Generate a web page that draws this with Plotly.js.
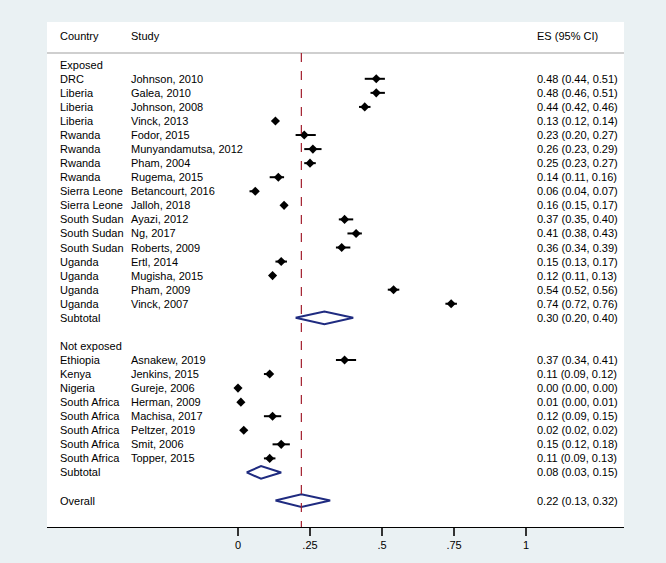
<!DOCTYPE html>
<html>
<head>
<meta charset="utf-8">
<script src="https://cdn.plot.ly/plotly-3.0.1.min.js"></script>
<style>html,body{margin:0;padding:0;background:#eaf1f3;}#chart{width:666px;height:563px;}</style>
</head>
<body>
<div id="chart"></div>
<script>
// ---- data ----
const exposedCountry = ["DRC","Liberia","Liberia","Liberia","Rwanda","Rwanda","Rwanda","Rwanda","Sierra Leone","Sierra Leone","South Sudan","South Sudan","South Sudan","Uganda","Uganda","Uganda","Uganda"];
const exposedStudy = ["Johnson, 2010","Galea, 2010","Johnson, 2008","Vinck, 2013","Fodor, 2015","Munyandamutsa, 2012","Pham, 2004","Rugema, 2015","Betancourt, 2016","Jalloh, 2018","Ayazi, 2012","Ng, 2017","Roberts, 2009","Ertl, 2014","Mugisha, 2015","Pham, 2009","Vinck, 2007"];
const exposedES = [0.48,0.48,0.44,0.13,0.23,0.26,0.25,0.14,0.06,0.16,0.37,0.41,0.36,0.15,0.12,0.54,0.74];
const exposedLo = [0.44,0.46,0.42,0.12,0.20,0.23,0.23,0.11,0.04,0.15,0.35,0.38,0.34,0.13,0.11,0.52,0.72];
const exposedHi = [0.51,0.51,0.46,0.14,0.27,0.29,0.27,0.16,0.07,0.17,0.40,0.43,0.39,0.17,0.13,0.56,0.76];

const notExpCountry = ["Ethiopia","Kenya","Nigeria","South Africa","South Africa","South Africa","South Africa","South Africa"];
const notExpStudy = ["Asnakew, 2019","Jenkins, 2015","Gureje, 2006","Herman, 2009","Machisa, 2017","Peltzer, 2019","Smit, 2006","Topper, 2015"];
const notExpES = [0.37,0.11,0.00,0.01,0.12,0.02,0.15,0.11];
const notExpLo = [0.34,0.09,0.00,0.00,0.09,0.02,0.12,0.09];
const notExpHi = [0.41,0.12,0.00,0.01,0.15,0.02,0.18,0.13];

const groupLabels = ["Exposed","Not exposed"];
const subtotalES = [0.30,0.08];
const subtotalLo = [0.20,0.03];
const subtotalHi = [0.40,0.15];
const overallES = 0.22, overallLo = 0.13, overallHi = 0.32;

const tickVals = [0,0.25,0.5,0.75,1];
const tickText = ["0",".25",".5",".75","1"];

// ---- build rows ----
const fmt = v => v.toFixed(2);
const ci = (e,l,h) => fmt(e)+" ("+fmt(l)+", "+fmt(h)+")";
const rows = []; // {country, study, es text, type, values}
function addGroup(label, countries, studies, es, lo, hi, sEs, sLo, sHi){
  rows.push({country:label, study:"", es:"", type:"header"});
  for(let k=0;k<countries.length;k++){
    rows.push({country:countries[k], study:studies[k], es:ci(es[k],lo[k],hi[k]), type:"study", v:[es[k],lo[k],hi[k]]});
  }
  rows.push({country:"Subtotal", study:"", es:ci(sEs,sLo,sHi), type:"diamond", v:[sEs,sLo,sHi]});
  rows.push({country:"", study:"", es:"", type:"blank"});
}
addGroup(groupLabels[0], exposedCountry, exposedStudy, exposedES, exposedLo, exposedHi, subtotalES[0], subtotalLo[0], subtotalHi[0]);
addGroup(groupLabels[1], notExpCountry, notExpStudy, notExpES, notExpLo, notExpHi, subtotalES[1], subtotalLo[1], subtotalHi[1]);
rows.push({country:"Overall", study:"", es:ci(overallES,overallLo,overallHi), type:"diamond", v:[overallES,overallLo,overallHi]});

const font = {family:"Liberation Sans, Arial, Helvetica, sans-serif", size:11, color:"#000"};
const colX = [0.0185, 0.142, 0.846];
const annotations = [];
function addText(txt, xp, y){
  if(!txt) return;
  annotations.push({text:txt, x:xp, xref:"paper", y:y, yref:"y", xanchor:"left", yanchor:"middle", showarrow:false, font:font});
}
addText("Country", colX[0], -2.05);
addText("Study", colX[1], -2.05);
addText("ES (95% CI)", colX[2], -2.05);

const sx=[], sy=[], splus=[], sminus=[];
const traces = [];
rows.forEach((r,i)=>{
  addText(r.country, colX[0], i);
  addText(r.study, colX[1], i);
  addText(r.es, colX[2], i);
  if(r.type==="study"){
    sx.push(r.v[0]); sy.push(i); splus.push(r.v[2]-r.v[0]); sminus.push(r.v[0]-r.v[1]);
  } else if(r.type==="diamond"){
    const h=0.45;
    traces.push({type:"scatter", mode:"lines", x:[r.v[1],r.v[0],r.v[2],r.v[0],r.v[1]], y:[i,i-h,i,i+h,i],
      line:{color:"#1f2b80", width:2}, hoverinfo:"skip", showlegend:false, cliponaxis:false});
  }
});
traces.push({type:"scatter", mode:"markers", x:sx, y:sy,
  marker:{symbol:"diamond", size:7, color:"#000"},
  error_x:{type:"data", symmetric:false, array:splus, arrayminus:sminus, color:"#000", thickness:2, width:0},
  showlegend:false});

const yTop = -3.04, yBot = 32.88, yHead = -0.83;
const layout = {
  width:666, height:563,
  margin:{l:47, r:42, t:22, b:36},
  paper_bgcolor:"#eaf1f3", plot_bgcolor:"#ffffff",
  showlegend:false,
  xaxis:{range:[-0.663,1.340], tickvals:tickVals, ticktext:tickText, showgrid:false, zeroline:false,
    showline:true, linecolor:"#000", linewidth:1.2, ticks:"outside", ticklen:8, tickwidth:1.5, tickcolor:"#333",
    tickfont:font, fixedrange:true},
  yaxis:{range:[yBot,yTop], showgrid:false, zeroline:false, showticklabels:false, showline:false, fixedrange:true},
  shapes:[
    {type:"line", xref:"paper", x0:0, x1:1, yref:"y", y0:yHead, y1:yHead, line:{color:"#bfbfbf", width:1.5}},
    {type:"line", xref:"x", x0:overallES, x1:overallES, yref:"y", y0:yHead, y1:yBot, line:{color:"#a3202e", width:1.2, dash:"dash"}}
  ],
  annotations:annotations
};
Plotly.newPlot("chart", traces, layout, {displayModeBar:false, staticPlot:true});
</script>
</body>
</html>
